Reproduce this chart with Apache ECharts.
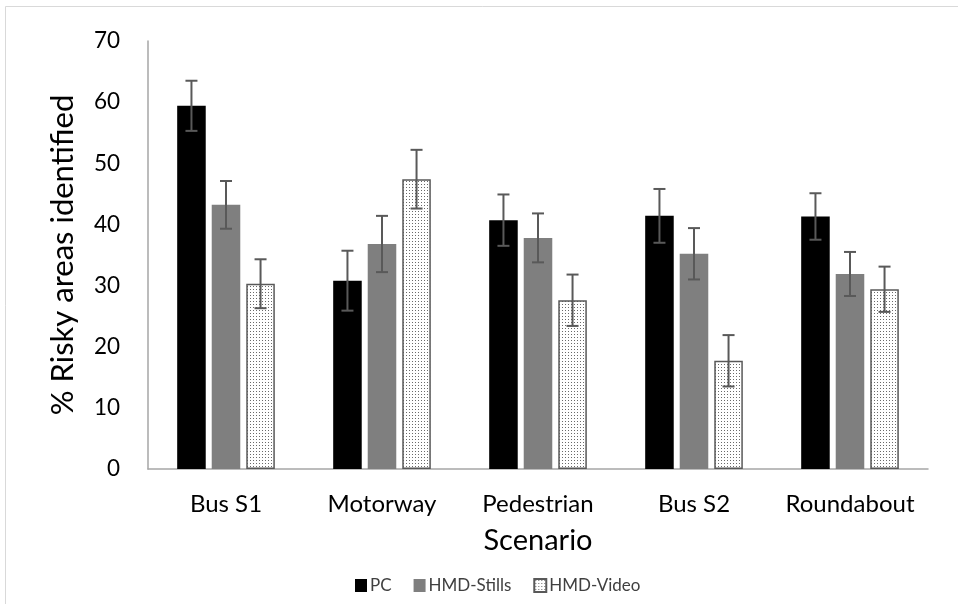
<!DOCTYPE html>
<html>
<head>
<meta charset="utf-8">
<script src="https://cdn.jsdelivr.net/npm/echarts@6/dist/echarts.min.js"></script>
<style>html,body{margin:0;padding:0;background:#fff;}#c{width:958px;height:604px;}</style>
</head>
<body>
<div id="c"></div>
<script>
var categories = ['Bus S1', 'Motorway', 'Pedestrian', 'Bus S2', 'Roundabout'];
var seriesNames = ['PC', 'HMD-Stills', 'HMD-Video'];
var pc = [59.4, 30.8, 40.7, 41.4, 41.3];
var pcErr = [4.1, 4.9, 4.2, 4.4, 3.8];
var stills = [43.2, 36.8, 37.8, 35.2, 31.9];
var stillsErr = [3.9, 4.6, 4.0, 4.2, 3.6];
var video = [30.3, 47.4, 27.6, 17.7, 29.4];
var videoErr = [4.0, 4.8, 4.2, 4.2, 3.7];
var yTicks = [0, 10, 20, 30, 40, 50, 60, 70];

var FONT = 'Lato, "Open Sans", sans-serif';
var BAR_FRAC = 0.183;
var GAP_FRAC = 0.21;

// dotted pattern for HMD-Video
var pat = document.createElement('canvas');
pat.width = 3; pat.height = 3;
var pctx = pat.getContext('2d');
pctx.fillStyle = '#ffffff';
pctx.fillRect(0, 0, 3, 3);
pctx.fillStyle = '#6a6a6a';
pctx.fillRect(1, 1, 1, 1);

var values = [pc, stills, video];
var errs = [pcErr, stillsErr, videoErr];

function errData(si) {
  return categories.map(function (c, i) {
    return [i, values[si][i] - errs[si][i], values[si][i] + errs[si][i]];
  });
}

function errRender(si) {
  return function (params, api) {
    var idx = api.value(0);
    var lo = api.coord([idx, api.value(1)]);
    var hi = api.coord([idx, api.value(2)]);
    var catW = api.size([1, 0])[0];
    var bw = catW * BAR_FRAC;
    var gap = bw * GAP_FRAC;
    var x = lo[0] + (si - 1) * (bw + gap);
    var cap = 6;
    var style = { stroke: '#595959', lineWidth: 2, fill: null };
    return {
      type: 'group',
      children: [
        { type: 'line', shape: { x1: x, y1: lo[1], x2: x, y2: hi[1] }, style: style },
        { type: 'line', shape: { x1: x - cap, y1: lo[1], x2: x + cap, y2: lo[1] }, style: style },
        { type: 'line', shape: { x1: x - cap, y1: hi[1], x2: x + cap, y2: hi[1] }, style: style }
      ]
    };
  };
}

var barColors = ['#000000', '#7f7f7f', { image: pat, repeat: 'repeat' }];

var series = [];
for (var s = 0; s < 3; s++) {
  series.push({
    name: seriesNames[s],
    type: 'bar',
    data: values[s],
    barWidth: (BAR_FRAC * 100) + '%',
    barGap: (GAP_FRAC * 100) + '%',
    itemStyle: s === 2
      ? { color: barColors[s], borderColor: '#595959', borderWidth: 1.5 }
      : { color: barColors[s] },
    emphasis: { disabled: true },
    z: 2
  });
}
for (var e = 0; e < 3; e++) {
  series.push({
    type: 'custom',
    data: errData(e),
    renderItem: errRender(e),
    encode: { x: 0, y: [1, 2] },
    z: 5,
    silent: true
  });
}

var chart = echarts.init(document.getElementById('c'), null, { renderer: 'canvas' });
chart.setOption({
  animation: false,
  backgroundColor: '#ffffff',
  textStyle: { fontFamily: FONT },
  graphic: [{
    type: 'rect',
    shape: { x: 5.5, y: 6.5, width: 1000, height: 700 },
    style: { fill: null, stroke: '#d9d9d9', lineWidth: 1 },
    silent: true
  }],
  grid: { left: 148, right: 30, top: 41, bottom: 135 },
  legend: {
    data: seriesNames,
    top: 572,
    left: 350,
    itemWidth: 12,
    itemHeight: 13,
    itemGap: 22,
    icon: 'rect',
    textStyle: { fontFamily: FONT, fontSize: 17, color: '#404040', padding: [0, 0, 0, -2] }
  },
  xAxis: {
    type: 'category',
    data: categories,
    name: 'Scenario',
    nameLocation: 'middle',
    nameGap: 57,
    nameTextStyle: { fontFamily: FONT, fontSize: 29, color: '#000' },
    axisLine: { lineStyle: { color: '#a6a6a6', width: 1.5 } },
    axisTick: { show: false },
    axisLabel: { fontFamily: FONT, fontSize: 24, color: '#000', margin: 23, interval: 0, hideOverlap: false }
  },
  yAxis: {
    type: 'value',
    min: 0,
    max: 70,
    interval: 10,
    name: '% Risky areas identified',
    nameLocation: 'middle',
    nameGap: 70,
    nameTextStyle: { fontFamily: FONT, fontSize: 31, color: '#000' },
    axisLine: { show: true, lineStyle: { color: '#a6a6a6', width: 1.5 } },
    axisTick: { show: false },
    splitLine: { show: false },
    axisLabel: {
      fontFamily: FONT, fontSize: 22.5, color: '#000', margin: 28,
      formatter: function (v) { return yTicks.indexOf(v) >= 0 ? String(v) : ''; }
    }
  },
  series: series
});
</script>
</body>
</html>
